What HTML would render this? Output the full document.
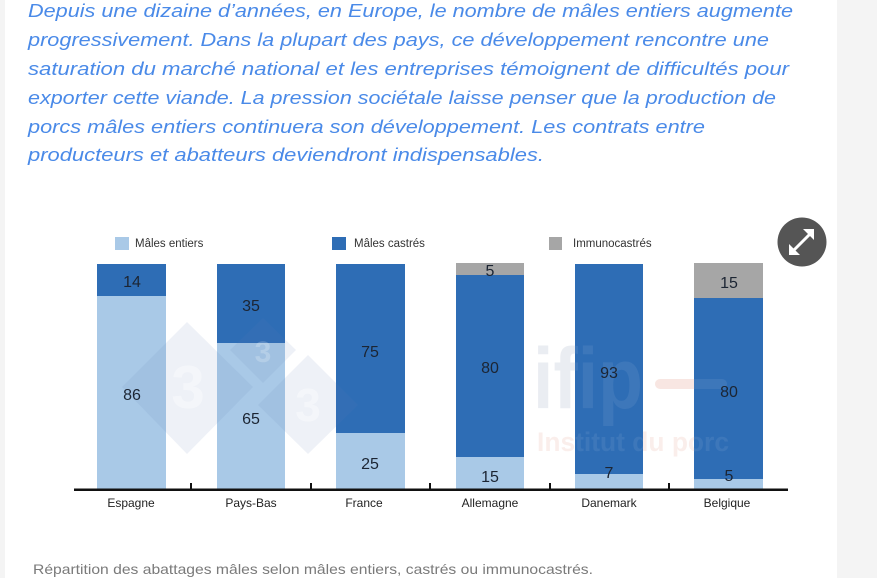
<!DOCTYPE html>
<html>
<head>
<meta charset="utf-8">
<style>
  html,body{margin:0;padding:0;background:#f4f4f4;}
  body{width:877px;height:578px;overflow:hidden;}
  svg{display:block;}
</style>
</head>
<body>
<svg width="877" height="578" viewBox="0 0 877 578" xmlns="http://www.w3.org/2000/svg">
  <rect x="0" y="0" width="877" height="578" fill="#f4f4f4"/>
  <rect x="5" y="0" width="832" height="578" fill="#ffffff"/>

  <!-- paragraph -->
  <g font-family="Liberation Sans, DejaVu Sans, sans-serif" font-style="italic" font-size="18" fill="#4a8ae8">
    <text x="28" y="17" textLength="765" lengthAdjust="spacingAndGlyphs">Depuis une dizaine d’années, en Europe, le nombre de mâles entiers augmente</text>
    <text x="28" y="46" textLength="741" lengthAdjust="spacingAndGlyphs">progressivement. Dans la plupart des pays, ce développement rencontre une</text>
    <text x="28" y="75" textLength="761" lengthAdjust="spacingAndGlyphs">saturation du marché national et les entreprises témoignent de difficultés pour</text>
    <text x="28" y="104" textLength="748" lengthAdjust="spacingAndGlyphs">exporter cette viande. La pression sociétale laisse penser que la production de</text>
    <text x="28" y="133" textLength="677" lengthAdjust="spacingAndGlyphs">porcs mâles entiers continuera son développement. Les contrats entre</text>
    <text x="28" y="161" textLength="516" lengthAdjust="spacingAndGlyphs">producteurs et abatteurs deviendront indispensables.</text>
  </g>

  <!-- legend -->
  <g font-family="Liberation Sans, Arial, sans-serif" font-size="11.5" fill="#333">
    <rect x="115" y="237" width="14" height="13" fill="#a9c9e7"/>
    <text x="135" y="247">Mâles entiers</text>
    <rect x="332" y="237" width="14" height="13" fill="#2e6db5"/>
    <text x="354" y="247">Mâles castrés</text>
    <rect x="549" y="237" width="13" height="13" fill="#a6a6a6"/>
    <text x="573" y="247">Immunocastrés</text>
  </g>

  <!-- watermark ifip (under bars) -->
  <g font-family="Liberation Sans, sans-serif" font-weight="bold">
    <text x="533" y="408" font-size="86" fill="#c3c9d8" opacity="0.35" textLength="110" lengthAdjust="spacingAndGlyphs">ifip</text>
    <rect x="655" y="379" width="72" height="10" rx="5" fill="#e8a898" opacity="0.3"/>
    <text x="537" y="451" font-size="27" fill="#e8a898" opacity="0.2" textLength="192" lengthAdjust="spacingAndGlyphs">Institut du porc</text>
  </g>

  <!-- bars -->
  <rect x="97" y="264" width="69" height="32" fill="#2e6db5"/>
  <rect x="97" y="296" width="69" height="193" fill="#a9c9e7"/>
  <rect x="217" y="264" width="68" height="79" fill="#2e6db5"/>
  <rect x="217" y="343" width="68" height="146" fill="#a9c9e7"/>
  <rect x="336" y="264" width="69" height="169" fill="#2e6db5"/>
  <rect x="336" y="433" width="69" height="56" fill="#a9c9e7"/>
  <rect x="456" y="263" width="68" height="12" fill="#a6a6a6"/>
  <rect x="456" y="275" width="68" height="182" fill="#2e6db5"/>
  <rect x="456" y="457" width="68" height="32" fill="#a9c9e7"/>
  <rect x="575" y="264" width="68" height="210" fill="#2e6db5"/>
  <rect x="575" y="474" width="68" height="15" fill="#a9c9e7"/>
  <rect x="694" y="263" width="69" height="35" fill="#a6a6a6"/>
  <rect x="694" y="298" width="69" height="181" fill="#2e6db5"/>
  <rect x="694" y="479" width="69" height="10" fill="#a9c9e7"/>

  <!-- faint watermark overlay on bars -->
  <g font-family="Liberation Sans, sans-serif" font-weight="bold" opacity="0.07">
    <text x="533" y="408" font-size="86" fill="#ffffff" textLength="110" lengthAdjust="spacingAndGlyphs">ifip</text>
    <rect x="655" y="379" width="72" height="10" rx="5" fill="#ffffff"/>
    <text x="537" y="451" font-size="27" fill="#ffffff" textLength="192" lengthAdjust="spacingAndGlyphs">Institut du porc</text>
  </g>

  <!-- diamond watermarks -->
  <g opacity="0.1" fill="#5f7fb5">
    <polygon points="187,322 253,387 187,454 122,387"/>
    <polygon points="263,318 296,350 263,383 230,350"/>
    <polygon points="308,355 358,405 308,454 258,405"/>
  </g>
  <g font-family="Liberation Sans, sans-serif" font-weight="bold" fill="#ffffff" opacity="0.4" text-anchor="middle">
    <text x="188" y="408" font-size="60">3</text>
    <text x="308" y="421" font-size="46">3</text>
    <text x="263" y="362" font-size="30" opacity="0.5">3</text>
  </g>

  <!-- value labels -->
  <g font-family="Liberation Sans, DejaVu Sans, sans-serif" font-size="16" fill="#1c2533" text-anchor="middle">
    <text x="132" y="287">14</text>
    <text x="132" y="400">86</text>
    <text x="251" y="311">35</text>
    <text x="251" y="424">65</text>
    <text x="370" y="357">75</text>
    <text x="370" y="469">25</text>
    <text x="490" y="276">5</text>
    <text x="490" y="373">80</text>
    <text x="490" y="482">15</text>
    <text x="609" y="378">93</text>
    <text x="609" y="478">7</text>
    <text x="729" y="288">15</text>
    <text x="729" y="397">80</text>
    <text x="729" y="481">5</text>
  </g>

  <!-- axis -->
  <rect x="74" y="488.5" width="714" height="2.5" fill="#111"/>
  <g fill="#111">
    <rect x="190" y="483" width="2" height="6"/>
    <rect x="310" y="483" width="2" height="6"/>
    <rect x="429" y="483" width="2" height="6"/>
    <rect x="549" y="483" width="2" height="6"/>
    <rect x="668" y="483" width="2" height="6"/>
  </g>
  <g font-family="Liberation Sans, Arial, sans-serif" font-size="12" fill="#222" text-anchor="middle">
    <text x="131" y="507">Espagne</text>
    <text x="251" y="507">Pays-Bas</text>
    <text x="364" y="507">France</text>
    <text x="490" y="507">Allemagne</text>
    <text x="609" y="507">Danemark</text>
    <text x="727" y="507">Belgique</text>
  </g>

  <!-- expand button -->
  <circle cx="802" cy="242" r="24.5" fill="#555555"/>
  <g stroke="#ffffff" stroke-width="3" stroke-linecap="round" fill="none">
    <line x1="792" y1="252" x2="811" y2="233"/>
  </g>
  <g fill="#ffffff">
    <polygon points="814,229 814,240 803,229"/>
    <polygon points="789,255 789,244 800,255"/>
  </g>

  <!-- caption -->
  <text x="33" y="574" font-family="Liberation Sans, DejaVu Sans, sans-serif" font-size="14" fill="#7a7a7a" textLength="560" lengthAdjust="spacingAndGlyphs">Répartition des abattages mâles selon mâles entiers, castrés ou immunocastrés.</text>
</svg>
</body>
</html>
